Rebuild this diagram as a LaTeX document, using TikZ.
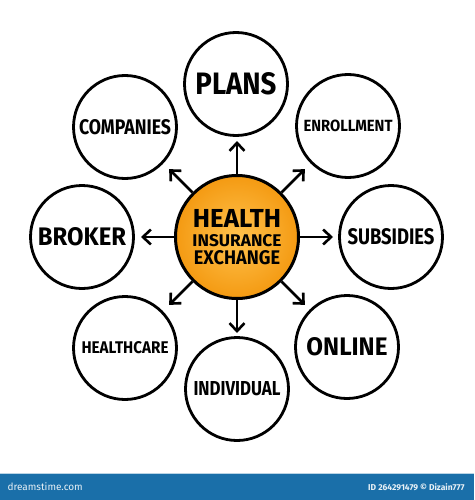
\documentclass[tikz,border=0pt]{standalone}
\usepackage{fontspec}
\usepackage{graphicx}
\setmainfont{Fira Sans}
\usetikzlibrary{arrows.meta,calc}
\definecolor{ringorange}{HTML}{F49A12}
\definecolor{coreorange}{HTML}{FFC24D}
\definecolor{barblue}{HTML}{1A6FA9}
\newcommand{\lbl}[3]{\resizebox{#1pt}{#2pt}{\bfseries #3}}
\begin{document}
\begin{tikzpicture}[x=1pt,y=-1pt,
  outer/.style={circle,draw=black,line width=2.8pt,minimum size=103pt,inner sep=0pt,fill=white},
  core/.style={circle,draw=black,line width=3pt,minimum size=123pt,inner sep=0pt,inner color=coreorange,outer color=ringorange},
  coretext/.style={inner sep=0pt,align=center,font=\fontsize{1}{1}\selectfont},
  arr/.style={line width=2.6pt,-{Straight Barb[length=8pt,width=15pt,line width=2.6pt]}}
]
\useasboundingbox (0,0) rectangle (474,500);
\fill[white] (0,0) rectangle (474,500);

\node[core] (c) at (237,237) {};
\node[coretext] (ct) at (237,237) {\lbl{88}{18}{HEALTH}\\[6pt]\lbl{89}{12}{INSURANCE}\\[2pt]\lbl{86}{14}{EXCHANGE}};

\node[outer] (plans) at (236,84) {\lbl{81}{22}{PLANS}};
\node[outer] (enroll) at (348,126) {\lbl{89}{11.5}{ENROLLMENT}};
\node[outer] (subs) at (391,237) {\lbl{87}{16}{SUBSIDIES}};
\node[outer] (online) at (347,347) {\lbl{81}{18}{ONLINE}};
\node[outer] (indiv) at (237,389) {\lbl{87}{14}{INDIVIDUAL}};
\node[outer] (health) at (125,348) {\lbl{87}{12}{HEALTHCARE}};
\node[outer] (broker) at (82,237) {\lbl{88}{18}{BROKER}};
\node[outer] (comp) at (125,127) {\lbl{92}{15}{COMPANIES}};

\foreach \ang/\nm in {90/tplans,45/tenroll,0/tsubs,-45/tonline,-90/tindiv,-135/thealth,180/tbroker,135/tcomp}{
  \coordinate (\nm) at ($(c.center)+(\ang:96pt)$);
  \draw[arr] (c.\ang) -- (\nm);
}

\fill[barblue] (0,473) rectangle (474,500);
\draw[white!70!barblue,line width=0.6pt] (0,473.3) -- (474,473.3);
\node[anchor=west,text=white!90!barblue,font=\fontsize{10}{12}\selectfont] (dt) at (4,487) {dreamstime.com};
\node[anchor=east,text=white!90!barblue,font=\fontsize{8.5}{10}\selectfont\bfseries] (id) at (468,487) {ID 264291479 © Dizain777};
\end{tikzpicture}
\end{document}
